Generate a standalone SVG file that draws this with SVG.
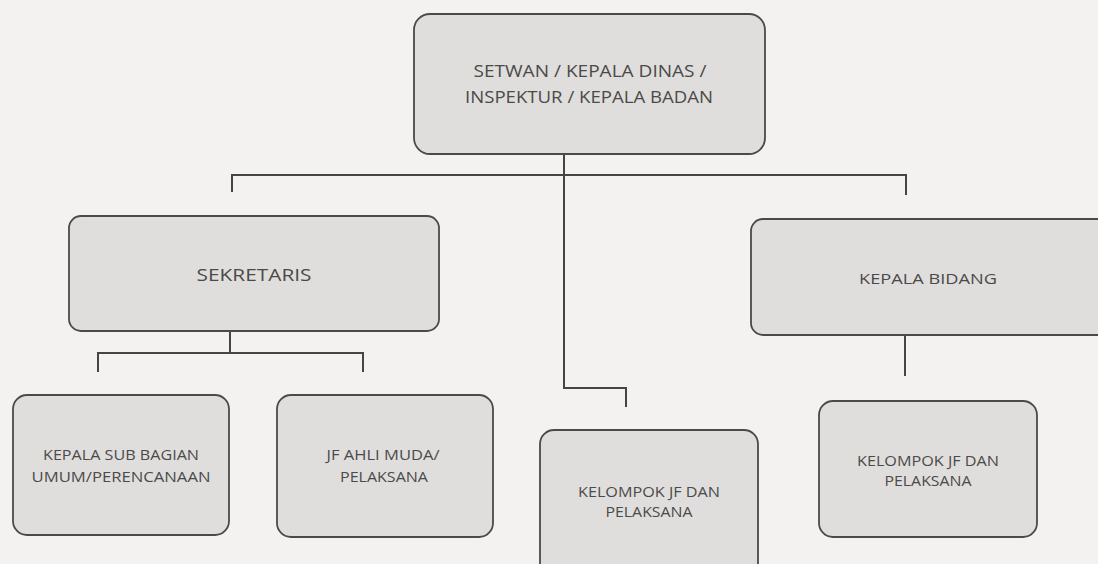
<svg xmlns="http://www.w3.org/2000/svg" width="1098" height="564" viewBox="0 0 1098 564">
<style>
.box{fill:#e0dedc;stroke:#4a4a4a;stroke-width:1.8}
.t{font-family:"Open Sans","Noto Sans","Liberation Sans",sans-serif;fill:#4a4a4a;text-anchor:middle}
.c{fill:none;stroke:#444;stroke-width:2}
</style>
<rect width="1098" height="564" fill="#f3f2f0"/>
<g id="connectors">
<path class="c" d="M564,154 V388 H626 V407"/>
<path class="c" d="M232,192 V175 H906 V195"/>
<path class="c" d="M230,331 V353"/>
<path class="c" d="M98,372 V353 H363 V372"/>
<path class="c" d="M905,335 V376"/>
</g>
<g id="n-top">
<rect class="box" x="414" y="14" width="351" height="140" rx="16"/>
<text class="t" font-size="16" x="590" y="77" textLength="233" lengthAdjust="spacingAndGlyphs">SETWAN / KEPALA DINAS /</text>
<text class="t" font-size="16" x="589" y="103" textLength="248" lengthAdjust="spacingAndGlyphs">INSPEKTUR / KEPALA BADAN</text>
</g>
<g id="n-sekretaris">
<rect class="box" x="69" y="216" width="370" height="115" rx="12"/>
<text class="t" font-size="17" x="254" y="281" textLength="115" lengthAdjust="spacingAndGlyphs">SEKRETARIS</text>
</g>
<g id="n-kabid">
<rect class="box" x="751" y="219" width="370" height="116" rx="12"/>
<text class="t" font-size="15" x="928" y="284" textLength="138" lengthAdjust="spacingAndGlyphs">KEPALA BIDANG</text>
</g>
<g id="n-kasubbag">
<rect class="box" x="13" y="395" width="216" height="140" rx="14"/>
<text class="t" font-size="14" x="121" y="460" textLength="156" lengthAdjust="spacingAndGlyphs">KEPALA SUB BAGIAN</text>
<text class="t" font-size="14" x="121" y="482" textLength="179" lengthAdjust="spacingAndGlyphs">UMUM/PERENCANAAN</text>
</g>
<g id="n-jf">
<rect class="box" x="277" y="395" width="216" height="142" rx="14"/>
<text class="t" font-size="14" x="383" y="460" textLength="113" lengthAdjust="spacingAndGlyphs">JF AHLI MUDA/</text>
<text class="t" font-size="14" x="384" y="482" textLength="88" lengthAdjust="spacingAndGlyphs">PELAKSANA</text>
</g>
<g id="n-kelompok1">
<rect class="box" x="540" y="430" width="218" height="150" rx="14"/>
<text class="t" font-size="15" x="649" y="497" textLength="142" lengthAdjust="spacingAndGlyphs">KELOMPOK JF DAN</text>
<text class="t" font-size="15" x="649" y="517" textLength="87" lengthAdjust="spacingAndGlyphs">PELAKSANA</text>
</g>
<g id="n-kelompok2">
<rect class="box" x="819" y="401" width="218" height="136" rx="14"/>
<text class="t" font-size="15" x="928" y="466" textLength="142" lengthAdjust="spacingAndGlyphs">KELOMPOK JF DAN</text>
<text class="t" font-size="15" x="928" y="486" textLength="87" lengthAdjust="spacingAndGlyphs">PELAKSANA</text>
</g>
</svg>
